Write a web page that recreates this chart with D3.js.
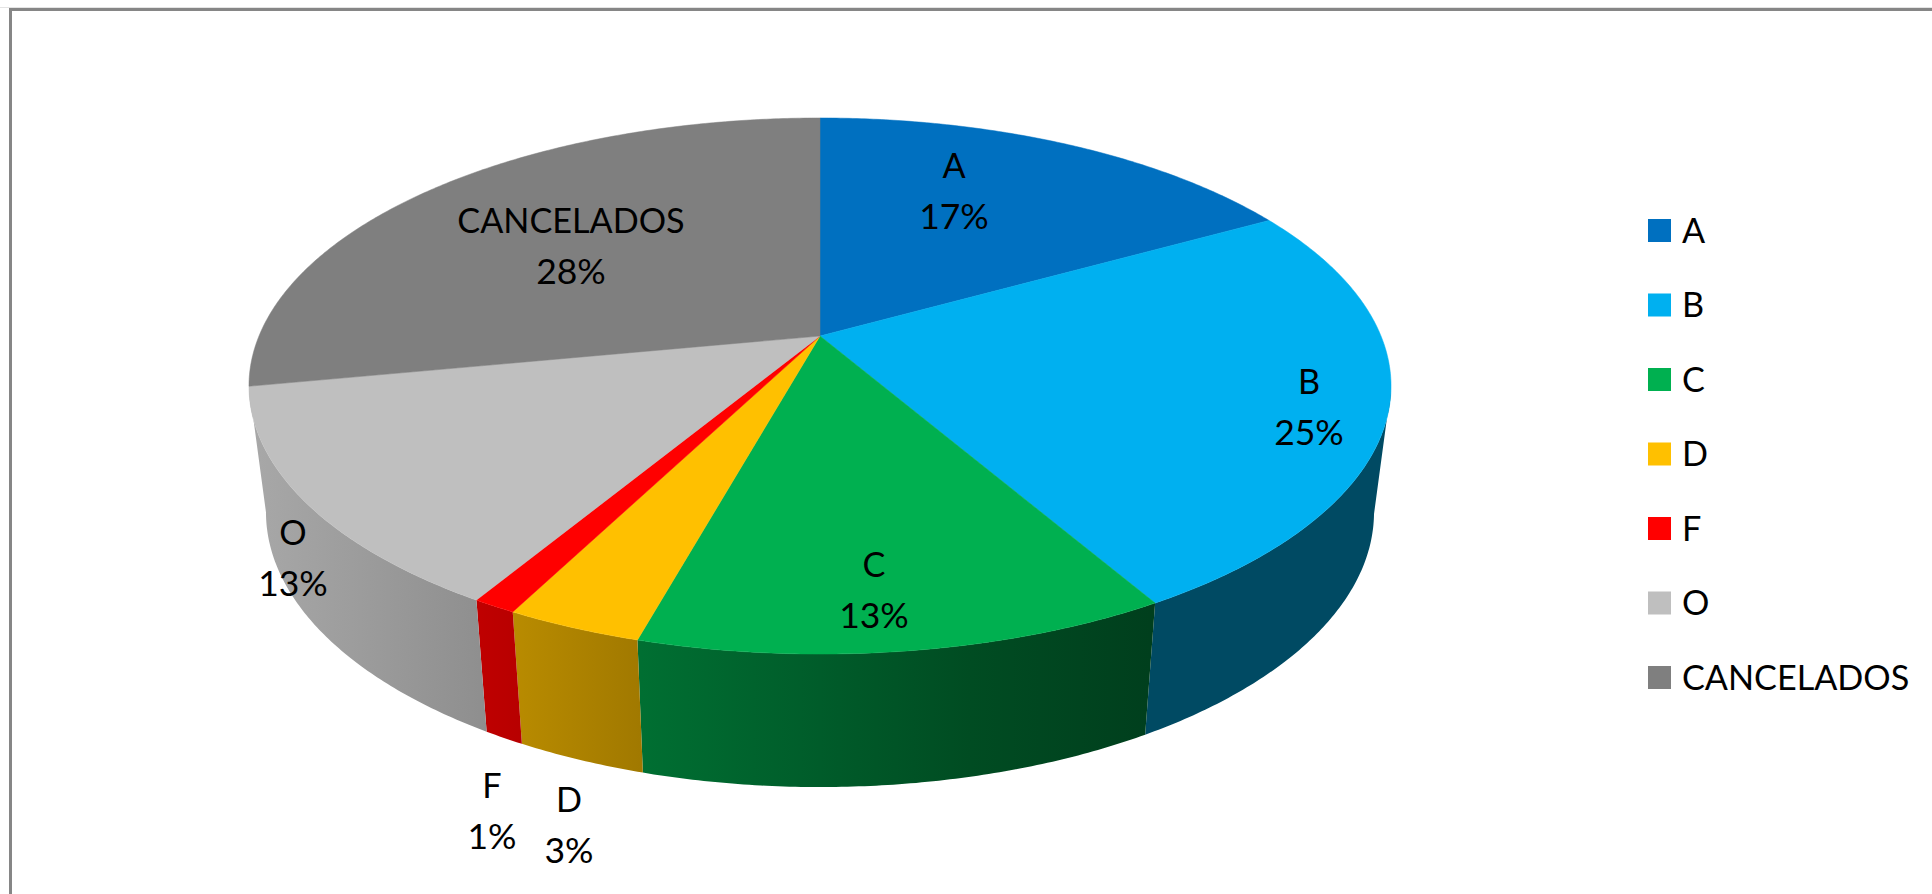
<!DOCTYPE html>
<html>
<head>
<meta charset="utf-8">
<script src="https://cdn.jsdelivr.net/npm/d3@7/dist/d3.min.js"></script>
<style>
html,body{margin:0;padding:0;background:#fff;overflow:hidden}
svg{display:block}
text{font-family:Lato,"Open Sans",sans-serif;fill:#000}
</style>
</head>
<body>
<div id="chart"></div>
<script>
// ---- data ----
const categories = ["A","B","C","D","F","O","CANCELADOS"];
const values = [16.9,24.75,12.65,3.25,1.05,13.4,28.0];
const colors = ["#0070C0","#00B0F0","#00B050","#FFC000","#FF0000","#BFBFBF","#7F7F7F"];

// ---- layout (not data) ----
const W = 1932, H = 894;
const labelPos = {A:[954,166],B:[1309,382],C:[874,565],D:[569,800],F:[492,786],O:[293,533],CANCELADOS:[571,221]};
const labelGap = 51;
const topE = {cx:820, cy:386, rx:571, ry:268};
const botE = {cx:820, cy:512, rx:554, ry:275};
const apex = {x:820, y:336, R:561, b:258.7, k:0.1866};

const svg = d3.select("#chart").append("svg").attr("width",W).attr("height",H);
const defs = svg.append("defs");

// chart frame (top and left edges are all that show)
svg.append("path").attr("d",`M0,7.5H${W}`).attr("stroke","#e4e4e4").attr("stroke-width",1).attr("fill","none");
svg.append("path").attr("d",`M10.5,${H}V9.5H${W}`).attr("stroke","#868686").attr("stroke-width",3).attr("fill","none");

const total = d3.sum(values);
const pie = d3.pie().sort(null).value(d=>d.value).startAngle(0).endAngle(2*Math.PI);
const arcs = pie(categories.map((c,i)=>({name:c,value:values[i],color:colors[i]})));

// perspective projection of a point on the pie's unit circle
function project(theta){
  const u = Math.sin(theta), v = -Math.cos(theta), d = 1-apex.k*v;
  return [apex.x+apex.R*u/d, apex.y+apex.b*v/d];
}
// same rim point carried down to the bottom face
function lower(p){
  const c = (p[0]-topE.cx)/topE.rx, s = (p[1]-topE.cy)/topE.ry;
  return [botE.cx+botE.rx*c, botE.cy+botE.ry*s];
}
const stepA = Math.PI/360;
function rim(a0,a1){
  const n = Math.max(1,Math.ceil((a1-a0)/stepA));
  return d3.range(n+1).map(i=>project(a0+(a1-a0)*i/n));
}
const line = d3.line();

// side shading as a function of horizontal position on the wall
const shadeX = [250,480,640,820,970,1150,1400];
const shadeF = [.88,.75,.63,.52,.43,.36,.36];
const scaled = (col,f)=>{const c=d3.rgb(col);return d3.rgb(c.r*f,c.g*f,c.b*f).formatHex();};

// side wall: one shape per front slice, filled with a horizontal shade
const walls = arcs.map((d,i)=>{
  const pts = rim(d.startAngle,d.endAngle).filter(p=>p[1]>=topE.cy);
  return {d,i,pts};
}).filter(w=>w.pts.length>1);

walls.forEach(w=>{
  const g = defs.append("linearGradient").attr("id","wall"+w.i)
    .attr("gradientUnits","userSpaceOnUse").attr("x1",shadeX[0]).attr("x2",shadeX[shadeX.length-1]).attr("y1",0).attr("y2",0);
  shadeX.forEach((x,k)=>{
    g.append("stop").attr("offset",(x-shadeX[0])/(shadeX[shadeX.length-1]-shadeX[0]))
      .attr("stop-color",w.d.data.name==="B"?"#004A63":scaled(w.d.data.color,shadeF[k]));
  });
});
svg.append("g").selectAll("path").data(walls).join("path")
  .attr("d",w=>line([...w.pts,...w.pts.map(lower).reverse()])+"Z")
  .attr("fill",w=>`url(#wall${w.i})`);

// top face
svg.append("g").selectAll("path").data(arcs).join("path")
  .attr("d",d=>line([[apex.x,apex.y],...rim(d.startAngle,d.endAngle)])+"Z")
  .attr("fill",d=>d.data.color).attr("stroke",d=>d.data.color).attr("stroke-width",.5);

// data labels
const fs = 34.2, fsPct = 35.5;
const lab = svg.append("g").selectAll("text").data(arcs).join("text")
  .attr("text-anchor","middle");
lab.append("tspan").attr("font-size",fs).attr("x",d=>labelPos[d.data.name][0]).attr("y",d=>labelPos[d.data.name][1]+12)
  .text(d=>d.data.name);
lab.append("tspan").attr("font-size",fsPct).attr("x",d=>labelPos[d.data.name][0]).attr("y",d=>labelPos[d.data.name][1]+12+labelGap)
  .text(d=>Math.round(d.data.value/total*100)+"%");

// legend
const ly = d3.scalePoint().domain(categories).range([230.5,677.5]);
const lg = svg.append("g").selectAll("g").data(arcs).join("g")
  .attr("transform",d=>`translate(1648,${ly(d.data.name)})`);
lg.append("rect").attr("x",0).attr("y",-11.5).attr("width",23).attr("height",23).attr("fill",d=>d.data.color);
lg.append("text").attr("x",34).attr("y",12).attr("font-size",fs).text(d=>d.data.name);
</script>
</body>
</html>
